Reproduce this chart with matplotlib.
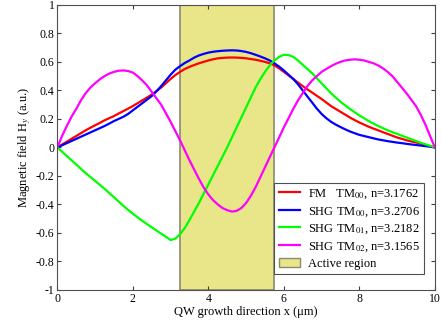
import matplotlib
matplotlib.use("Agg")
import matplotlib.pyplot as plt
import matplotlib.patches as mpatches
import numpy as np

plt.rcParams['font.family'] = ['Liberation Serif', 'DejaVu Serif']
plt.rcParams['mathtext.fontset'] = 'stix'

# values, x step 0.125 um (one row per um)
x = np.linspace(0, 10, 81)
fm_tm00 = [0, 0.02, 0.04, 0.06, 0.08, 0.10, 0.12, 0.138,
           0.155, 0.172, 0.19, 0.205, 0.22, 0.238, 0.255, 0.272,
           0.29, 0.31, 0.33, 0.35, 0.37, 0.395, 0.42, 0.45,
           0.48, 0.507, 0.53, 0.55, 0.565, 0.578, 0.59, 0.60,
           0.61, 0.618, 0.625, 0.628, 0.63, 0.631, 0.63, 0.628,
           0.625, 0.62, 0.615, 0.608, 0.60, 0.59, 0.575, 0.555,
           0.53, 0.505, 0.48, 0.455, 0.43, 0.407, 0.385, 0.362,
           0.34, 0.315, 0.29, 0.27, 0.25, 0.23, 0.21, 0.192,
           0.175, 0.16, 0.145, 0.132, 0.12, 0.107, 0.095, 0.082,
           0.07, 0.06, 0.05, 0.042, 0.035, 0.026, 0.018, 0.009,
           0]
shg_tm00 = [0, 0.015, 0.03, 0.045, 0.06, 0.075, 0.09, 0.105,
            0.12, 0.135, 0.15, 0.167, 0.185, 0.20, 0.215, 0.235,
            0.26, 0.285, 0.31, 0.335, 0.36, 0.393, 0.43, 0.47,
            0.51, 0.545, 0.57, 0.592, 0.61, 0.63, 0.645, 0.656,
            0.665, 0.671, 0.675, 0.678, 0.68, 0.681, 0.68, 0.676,
            0.67, 0.661, 0.65, 0.638, 0.625, 0.61, 0.59, 0.567,
            0.54, 0.51, 0.48, 0.443, 0.40, 0.357, 0.315, 0.272,
            0.235, 0.205, 0.18, 0.16, 0.143, 0.127, 0.112, 0.10,
            0.088, 0.08, 0.072, 0.064, 0.056, 0.05, 0.044, 0.039,
            0.034, 0.03, 0.025, 0.021, 0.017, 0.013, 0.009, 0.005,
            0]
shg_tm01 = [0, -0.03, -0.06, -0.09, -0.12, -0.15, -0.18, -0.207,
            -0.235, -0.262, -0.29, -0.32, -0.35, -0.38, -0.41, -0.438,
            -0.465, -0.49, -0.515, -0.538, -0.56, -0.583, -0.605, -0.626,
            -0.65, -0.64, -0.61, -0.565, -0.51, -0.45, -0.39, -0.325,
            -0.26, -0.195, -0.13, -0.065, 0.0, 0.07, 0.14, 0.21,
            0.28, 0.35, 0.42, 0.478, 0.53, 0.575, 0.61, 0.635,
            0.65, 0.648, 0.635, 0.61, 0.58, 0.55, 0.52, 0.485,
            0.45, 0.415, 0.38, 0.35, 0.32, 0.295, 0.27, 0.247,
            0.225, 0.205, 0.185, 0.167, 0.15, 0.135, 0.12, 0.107,
            0.095, 0.082, 0.07, 0.057, 0.045, 0.033, 0.022, 0.011,
            0]
shg_tm02 = [0, 0.08, 0.15, 0.215, 0.27, 0.33, 0.38, 0.42,
            0.45, 0.478, 0.50, 0.518, 0.53, 0.538, 0.54, 0.536,
            0.525, 0.50, 0.47, 0.435, 0.39, 0.345, 0.30, 0.24,
            0.18, 0.115, 0.05, -0.02, -0.09, -0.155, -0.22, -0.28,
            -0.33, -0.37, -0.40, -0.425, -0.44, -0.45, -0.445, -0.425,
            -0.39, -0.34, -0.28, -0.21, -0.14, -0.07, 0.0, 0.07,
            0.14, 0.205, 0.27, 0.33, 0.38, 0.43, 0.47, 0.50,
            0.53, 0.55, 0.57, 0.587, 0.60, 0.61, 0.615, 0.618,
            0.615, 0.61, 0.60, 0.59, 0.575, 0.555, 0.53, 0.50,
            0.46, 0.42, 0.38, 0.335, 0.29, 0.23, 0.16, 0.08,
            0]
active = (3.25, 5.75)

labels = ['FM   TM$_{00}$, n=3.1762', 'SHG TM$_{00}$, n=3.2706',
          'SHG TM$_{01}$, n=3.2182', 'SHG TM$_{02}$, n=3.1565']
colors = ['#ff0000', '#0000ff', '#00ff00', '#ff00ff']

fig = plt.figure(figsize=(4.41, 3.24), dpi=100)
ax = fig.add_axes([0.130, 0.105, 0.856, 0.880])

ax.axvspan(active[0], active[1], facecolor='#e8e688', edgecolor='#8a8a70',
           linewidth=1.2, zorder=1)
for y, c, lab in zip([fm_tm00, shg_tm00, shg_tm01, shg_tm02], colors, labels):
    ax.plot(x, y, color=c, linewidth=1.6, label=lab, zorder=3,
            solid_joinstyle='round')

ax.set_xlim(0, 10)
ax.set_ylim(-1, 1)
ax.set_xticks(np.arange(0, 11, 2))
ax.set_yticks(np.round(np.arange(-1, 1.01, 0.2), 1))
ax.set_yticklabels(['-1', '-0.8', '-0.6', '-0.4', '-0.2', '0', '0.2', '0.4',
                    '0.6', '0.8', '1'])
ax.tick_params(direction='in', top=True, right=True, length=3,
               labelsize=8.5, color='#404040', pad=2)
for s in ax.spines.values():
    s.set_color('#505050')
    s.set_zorder(5)

ax.set_xlabel('QW growth direction x (\u03bcm)', fontsize=9, labelpad=1)
ax.set_ylabel('Magnetic field H$_y$ (a.u.)', fontsize=9, labelpad=2)

handles, labs = ax.get_legend_handles_labels()
handles.append(mpatches.Patch(facecolor='#e8e688', edgecolor='#8a8a70'))
labs.append('Active region')
leg = ax.legend(handles, labs, loc='lower right', bbox_to_anchor=(0.971, 0.056),
                fontsize=9, fancybox=False, edgecolor='#505050',
                framealpha=1, handlelength=1.7, handletextpad=0.6,
                borderpad=0.35, labelspacing=0.32, borderaxespad=0)
leg.get_frame().set_linewidth(0.8)

fig.savefig('out.png', dpi=100)
